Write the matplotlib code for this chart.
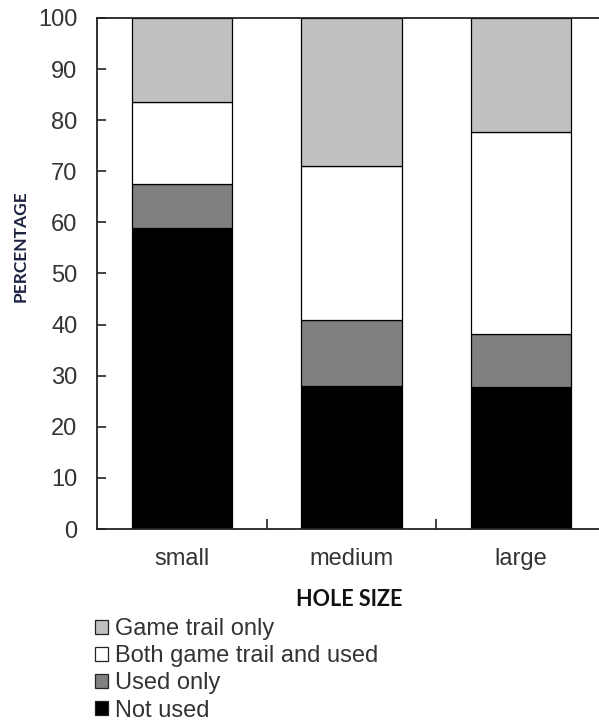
import numpy as np
import matplotlib
matplotlib.use("Agg")
import matplotlib.pyplot as plt
from matplotlib.patches import Patch

# hole size categories and stacked percentages (bottom -> top)
sizes = ["small", "medium", "large"]
not_used = [59.0, 28.0, 27.7]
used_only = [8.6, 12.9, 10.5]
both = [16.0, 30.2, 39.5]
game_trail = [16.4, 28.9, 22.3]

series = [
    ("Not used", not_used, "#000000"),
    ("Used only", used_only, "#808080"),
    ("Both game trail and used", both, "#ffffff"),
    ("Game trail only", game_trail, "#c0c0c0"),
]
legend_order = ["Game trail only", "Both game trail and used", "Used only", "Not used"]

plt.rcParams["font.family"] = ["Liberation Sans", "DejaVu Sans"]

fig = plt.figure(figsize=(5.99, 7.23), dpi=100)
ax = fig.add_axes([97 / 599, 1 - 529 / 723, 509 / 599, 511 / 723])

x = np.arange(len(sizes))
bottom = np.zeros(len(sizes))
handles = {}
for name, vals, col in series:
    vals = np.array(vals)
    ax.bar(x, vals, width=0.59, bottom=bottom, color=col,
           edgecolor="black", linewidth=0.9, zorder=2)
    bottom += vals
    handles[name] = Patch(facecolor=col, edgecolor="#222222", linewidth=0.9)

ax.set_xlim(-0.5, 2.5)
ax.set_ylim(0, 100)
ax.set_yticks(np.arange(0, 101, 10))

# category labels in the middle, tick marks between categories
ax.set_xticks(x)
ax.set_xticklabels(sizes)
ax.set_xticks([0.5, 1.5], minor=True)
ax.tick_params(axis="x", which="major", length=0, pad=14, labelsize=17,
               labelcolor="#333333")
ax.tick_params(axis="x", which="minor", direction="in", length=7, width=1.2,
               color="#222222")
ax.tick_params(axis="y", direction="in", length=6.5, width=1.2, pad=14,
               labelsize=17, labelcolor="#333333", color="#222222")

for s in ["left", "bottom", "top", "right"]:
    ax.spines[s].set_linewidth(1.3)
    ax.spines[s].set_color("#222222")

fig.text(21 / 599, 1 - 246 / 723, "PERCENTAGE", rotation=90, ha="center",
         va="center", fontsize=12.5, fontweight="bold", color="#1c2340",
         family=["Lato", "DejaVu Sans"])
fig.text(349 / 599, 1 - 600 / 723, "HOLE SIZE", ha="center", va="center",
         fontsize=15.5, fontweight="bold", color="#111111",
         family=["Lato", "DejaVu Sans"])

leg = fig.legend([handles[n] for n in legend_order], legend_order,
                 loc="upper left", bbox_to_anchor=(95 / 599, 1 - 618 / 723),
                 frameon=False, fontsize=17, handlelength=0.55,
                 handleheight=0.55, handletextpad=0.3, labelspacing=0.22,
                 borderaxespad=0, borderpad=0)
for t in leg.get_texts():
    t.set_color("#333333")

fig.savefig("out.png", dpi=100)
